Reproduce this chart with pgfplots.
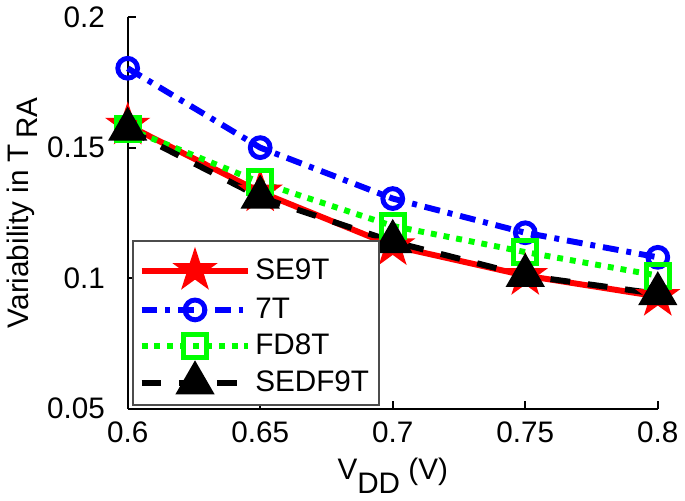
\documentclass[border=0pt]{standalone}
\usepackage{pgfplots}
\pgfplotsset{compat=1.18}
\usepackage{fontspec}
\setmainfont{Liberation Sans}
\pgfdeclareplotmark{fstar}{%
  \pgfpathmoveto{\pgfpointpolar{90}{\pgfplotmarksize}}%
  \pgfpathlineto{\pgfpointpolar{126}{0.382\pgfplotmarksize}}%
  \pgfpathlineto{\pgfpointpolar{162}{\pgfplotmarksize}}%
  \pgfpathlineto{\pgfpointpolar{198}{0.382\pgfplotmarksize}}%
  \pgfpathlineto{\pgfpointpolar{234}{\pgfplotmarksize}}%
  \pgfpathlineto{\pgfpointpolar{270}{0.382\pgfplotmarksize}}%
  \pgfpathlineto{\pgfpointpolar{306}{\pgfplotmarksize}}%
  \pgfpathlineto{\pgfpointpolar{342}{0.382\pgfplotmarksize}}%
  \pgfpathlineto{\pgfpointpolar{18}{\pgfplotmarksize}}%
  \pgfpathlineto{\pgfpointpolar{54}{0.382\pgfplotmarksize}}%
  \pgfpathclose
  \pgfusepathqfill}
\begin{document}
\begin{tikzpicture}
\begin{axis}[
  scale only axis,
  width=268pt, height=198pt,
  xmin=0.6, xmax=0.8, ymin=0.05, ymax=0.2,
  axis x line*=bottom, axis y line*=left,
  axis line style={line width=1pt, -},
  xtick={0.6,0.65,0.7,0.75,0.8},
  xticklabels={0.6,0.65,0.7,0.75,0.8},
  ytick={0.05,0.1,0.15,0.2},
  yticklabels={0.05,0.1,0.15,0.2},
  tick align=inside,
  major tick length=4pt,
  tick style={line width=1pt, black},
  ticklabel style={font=\fontsize{15}{18}\selectfont},
  xticklabel style={yshift=-3pt},
  yticklabel style={xshift=-8pt},
  xlabel={V\raisebox{-0.9ex}{DD} (V)},
  ylabel={Variability in T\,\raisebox{-0.6ex}{RA}},
  label style={font=\fontsize{15}{18}\selectfont},
  xlabel style={yshift=-1pt},
  ylabel style={yshift=-2pt},
  clip=false,
  legend style={at={(0.008,0.008)}, anchor=south west, draw=black!70, line width=0.8pt,
    font=\fontsize{15}{18}\selectfont, row sep=2.3pt, inner sep=3pt},
  legend cell align=left,
  legend image code/.code={\draw[mark repeat=2,mark phase=2] plot coordinates {(0pt,0pt) (27pt,0pt) (54pt,0pt)};},
]
\addplot[red, line width=3pt, mark=fstar, mark size=12pt, mark options={solid, fill=red}]
  coordinates {(0.6,0.1586) (0.65,0.133) (0.7,0.1124) (0.75,0.101) (0.8,0.093)};
\addlegendentry{SE9T}
\addplot[blue, line width=3pt, dash pattern=on 8pt off 4pt on 2.5pt off 4pt, mark=o, mark size=5pt, mark options={solid, line width=2.5pt}]
  coordinates {(0.6,0.1804) (0.65,0.150) (0.7,0.1305) (0.75,0.1174) (0.8,0.108)};
\addlegendentry{7T}
\addplot[green, line width=3pt, dash pattern=on 3pt off 3.5pt, mark=square, mark size=5.8pt, mark options={solid, line width=2.5pt}]
  coordinates {(0.6,0.1573) (0.65,0.1367) (0.7,0.120) (0.75,0.110) (0.8,0.101)};
\addlegendentry{FD8T}
\addplot[black, line width=3pt, dash pattern=on 10pt off 9pt, mark=triangle*, mark size=8.5pt, mark options={solid}]
  coordinates {(0.6,0.157) (0.65,0.131) (0.7,0.114) (0.75,0.101) (0.8,0.094)};
\addlegendentry{SEDF9T}
\end{axis}
\end{tikzpicture}
\end{document}
